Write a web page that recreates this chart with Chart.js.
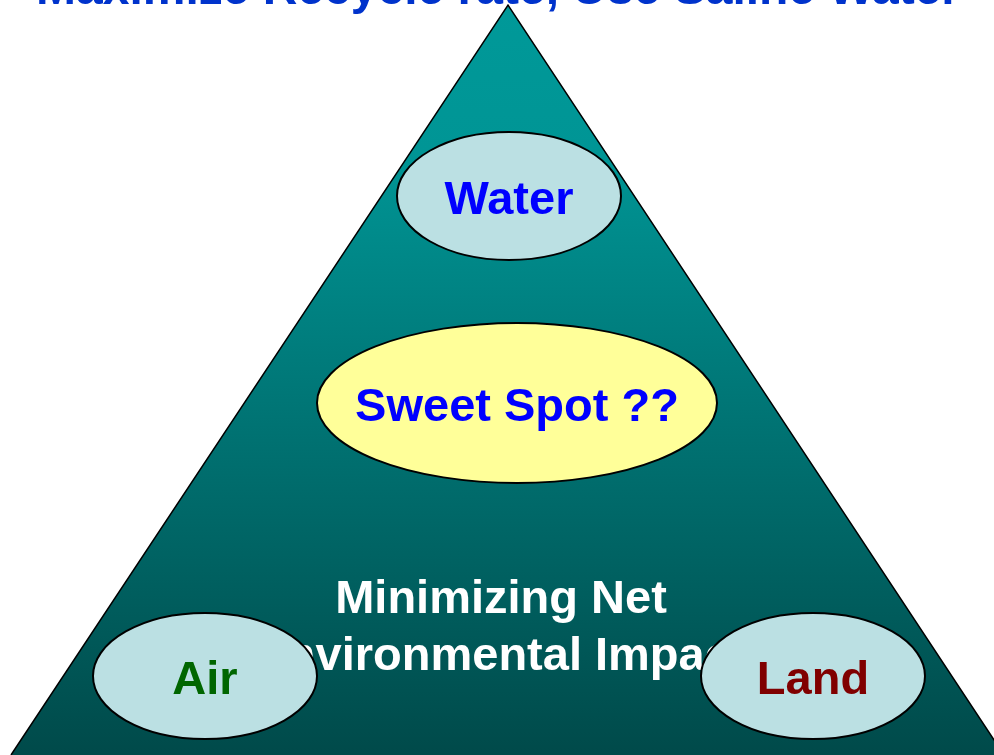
<!DOCTYPE html>
<html>
<head>
<meta charset="utf-8">
<script src="https://cdn.jsdelivr.net/npm/chart.js@4/dist/chart.umd.min.js"></script>
<style>
html,body{margin:0;padding:0;background:#fff}
#wrap{width:994px;height:755px;position:relative}
</style>
</head>
<body>
<div id="wrap"><canvas id="pyramid"></canvas></div>
<script>

// pyramid outline (left base, apex, right base)
const triangleX = [11, 508, 1004]
const triangleY = [755, 5, 755]
const baseY = 755

// the four ovals
const nodeLabels = ["Water", "Sweet Spot ??", "Air", "Land"]
const nodeX = [509, 517, 205, 813]
const nodeY = [196, 403, 676, 676]
const nodeRx = [112, 200, 112, 112]
const nodeRy = [64, 80, 63, 63]

// text in the pyramid body and the header
const centerLines = ["Minimizing Net", "Environmental Impact"]
const centerLineY = [613, 670]
const headerText = "Maximize Recycle rate, Use Saline Water"

const nodeFill = ["#bbe0e3", "#ffff99", "#bbe0e3", "#bbe0e3"]
const nodeText = ["#0000ff", "#0000ff", "#006600", "#800000"]
const FONT = '"Liberation Sans", Arial, sans-serif'

function pyramidGradient(context){
const area = context.chart.chartArea
if(!area) return "#008080"
const g = context.chart.ctx.createLinearGradient(0, area.top, 0, area.bottom)
g.addColorStop(0, "#009999")
g.addColorStop(0.2, "#009595")
g.addColorStop(1, "#004a4a")
return g
}

const diagramPlugin = {
id: "diagram",
afterDatasetsDraw(chart){

const ctx = chart.ctx
const x = chart.scales.x
const y = chart.scales.y

ctx.save()

// body text (the ovals sit on top of it)
ctx.fillStyle = "#ffffff"
ctx.font = "bold 47px " + FONT
ctx.textAlign = "center"
ctx.textBaseline = "alphabetic"
centerLines.forEach((t, i)=>{
ctx.fillText(t, x.getPixelForValue(501), y.getPixelForValue(centerLineY[i]))
})

nodeLabels.forEach((label, i)=>{

const cx = x.getPixelForValue(nodeX[i])
const cy = y.getPixelForValue(nodeY[i])
const rx = Math.abs(x.getPixelForValue(nodeX[i] + nodeRx[i]) - cx)
const ry = Math.abs(y.getPixelForValue(nodeY[i] + nodeRy[i]) - cy)

ctx.beginPath()
ctx.ellipse(cx, cy, rx, ry, 0, 0, Math.PI*2)
ctx.fillStyle = nodeFill[i]
ctx.fill()
ctx.lineWidth = 2
ctx.strokeStyle = "#000000"
ctx.stroke()

ctx.fillStyle = nodeText[i]
ctx.font = "bold 47px " + FONT
ctx.fillText(label, cx, cy + 18)

})

// header, cut by the top edge
ctx.fillStyle = "#0033cc"
ctx.font = "bold 48px " + FONT
ctx.fillText(headerText, x.getPixelForValue(498), y.getPixelForValue(4))

ctx.restore()

}
}

new Chart(document.getElementById("pyramid"), {
type: "scatter",
data: {
datasets: [{
type: "line",
data: triangleX.map((v, i)=>({x: v, y: triangleY[i]})),
fill: {value: baseY},
backgroundColor: pyramidGradient,
borderColor: "#000000",
borderWidth: 1.5,
pointRadius: 0,
tension: 0,
clip: false
}]
},
options: {
responsive: true,
maintainAspectRatio: false,
animation: false,
layout: {padding: 0},
plugins: {
legend: {display: false},
tooltip: {enabled: false}
},
scales: {
x: {type: "linear", min: 0, max: 994, display: false},
y: {type: "linear", min: 0, max: 755, reverse: true, display: false}
}
},
plugins: [diagramPlugin]
})

</script>
</body>
</html>
